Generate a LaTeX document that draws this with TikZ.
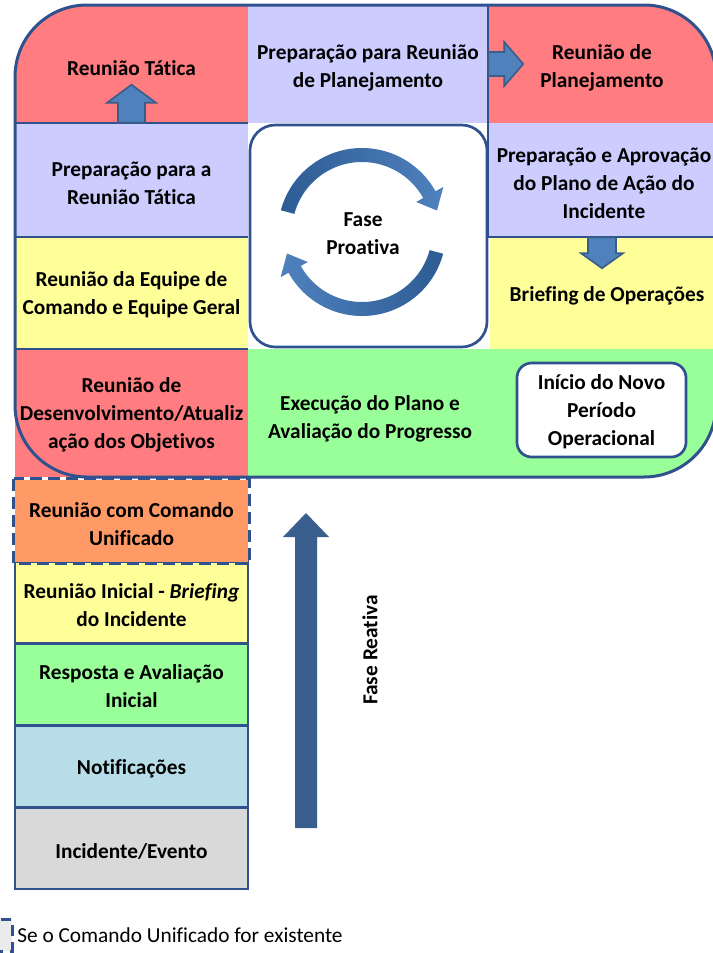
\documentclass[tikz,border=0pt]{standalone}
\usepackage{fontspec}
\setmainfont{Carlito}[Ligatures=NoCommon]
\usetikzlibrary{positioning,calc}

\definecolor{celRed}{HTML}{FF7C80}
\definecolor{celLav}{HTML}{CCCCFF}
\definecolor{celYel}{HTML}{FFFF99}
\definecolor{celGrn}{HTML}{99FF99}
\definecolor{celOra}{HTML}{FF9966}
\definecolor{celCya}{HTML}{B7DEE8}
\definecolor{celGry}{HTML}{D9D9D9}
\definecolor{lineBlue}{HTML}{2F528F}
\definecolor{arrFill}{HTML}{4F81BD}
\definecolor{arrEdge}{HTML}{385D8A}
\definecolor{arcDark}{HTML}{2E5C94}
\definecolor{bigArr}{HTML}{3A5F8E}

\tikzset{
  lbl/.style={font=\bfseries\fontsize{16}{21}\selectfont, align=center, inner sep=0pt},
  cell/.style={lbl, minimum width=174.75pt},
  stackbox/.style={cell, draw=lineBlue, line width=2pt, minimum height=61.5pt},
  gridline/.style={lineBlue, line width=1.5pt},
  blkarrow/.style={fill=arrFill, draw=arrEdge, line width=1.2pt, line join=miter},
  roundbox/.style={draw=lineBlue, line width=2pt, fill=white}
}

\begin{document}
\begin{tikzpicture}[x=0.75pt, y=-0.75pt]
\useasboundingbox (0,0) rectangle (713,953);

% upper cycle, cut by the rounded outline
\begin{scope}
  \clip[rounded corners=54pt] (15,5) rectangle (716,477);
  \node[cell, fill=celRed, minimum height=88.5pt] (tatica) at (131.5,64) {};
  \node[cell, fill=celLav, minimum width=180pt, minimum height=88.5pt] (prepPlan) at (368,64) {};
  \node[cell, fill=celRed, minimum width=171pt, minimum height=88.5pt] (planej) at (602,64) {};
  \node[cell, fill=celLav, minimum height=85.5pt] (prepT) at (131.5,180) {};
  \node[cell, fill=celLav, minimum width=171pt, minimum height=85.5pt] (aprov) at (602,180) {};
  \node[cell, fill=celYel, minimum height=84pt] (equipe) at (131.5,293) {};
  \node[cell, fill=celYel, minimum width=171pt, minimum height=84pt] (briefOp) at (604,293) {};
  \node[cell, fill=celGrn, minimum width=351pt, minimum height=96pt] (execucao) at (482,413) {};
\end{scope}
\node[cell, fill=celRed, minimum height=96pt] (desenv) at (131.5,413) {};

% cell texts
\node[lbl] (tataTxt) at (131.5,68) {Reunião Tática};
\node[lbl] (prepPlanTxt) at (368,68) {Preparação para Reunião\\de Planejamento};
\node[lbl] (planejTxt) at (602,68) {Reunião de\\Planejamento};
\node[lbl] (prepTTxt) at (131.5,183) {Preparação para a\\Reunião Tática};
\node[lbl] (aprovTxt) at (604,183) {Preparação e Aprovação\\do Plano de Ação do\\Incidente};
\node[lbl] (equipeTxt) at (131.5,295) {Reunião da Equipe de\\Comando e Equipe Geral};
\node[lbl] (briefOpTxt) at (607,296) {Briefing de Operações};
\node[lbl] (desenvTxt) at (131.5,415) {Reunião de\\Desenvolvimento/Atualiz\\ação dos Objetivos};

% cell borders
\draw[gridline] (tatica.south west) -- (tatica.south east);
\draw[gridline] (prepT.south west) -- (prepT.south east);
\draw[gridline] (equipe.south west) -- (equipe.south east);
\draw[gridline] (prepPlan.north east) -- (prepPlan.south east);
\draw[gridline] (aprov.north west) -- (aprov.south west) -- (aprov.south east);
\draw[lineBlue, line width=2.25pt, rounded corners=54pt] (15,5) rectangle (716,477);

% centre
\node[roundbox, rounded corners=19pt, minimum width=177.75pt, minimum height=166.5pt] (proBox) at (368.5,236) {};
\node[lbl] (proTxt) at (363,234) {Fase\\Proativa};
\begin{scope}[shift={(362,232)}]
  \shade[left color=arcDark, right color=arrFill] (195:84) arc[start angle=195, end angle=331, radius=84]
    -- (331:93) -- (344:78) -- (331:62) -- (331:70) arc[start angle=331, end angle=195, radius=70] -- cycle;
  \shade[left color=arrFill, right color=arcDark] (15:84) arc[start angle=15, end angle=151, radius=84]
    -- (151:93) -- (164:78) -- (151:62) -- (151:70) arc[start angle=151, end angle=15, radius=70] -- cycle;
\end{scope}
\node[lbl] (execTxt) at (370,419) {Execução do Plano e\\Avaliação do Progresso};
\node[roundbox, rounded corners=11pt, minimum width=126.75pt, minimum height=70.5pt] (inicio) at (601.5,410) {};
\node[lbl] (inicioTxt) at (601.5,412) {Início do Novo\\Período\\Operacional};

% reactive phase
\node[stackbox, fill=celGry] (incid) at (131.5,848) {};
\node[lbl] (incidTxt) at (131.5,851) {Incidente/Evento};
\node[stackbox, fill=celCya] (notif) at (131.5,766.5) {};
\node[lbl] (notifTxt) at (131.5,769) {Notificações};
\node[stackbox, fill=celGrn] (resposta) at (131.5,684) {};
\node[lbl] (respostaTxt) at (131.5,686) {Resposta e Avaliação\\Inicial};
\node[stackbox, fill=celYel] (inicial) at (131.5,602.5) {};
\node[lbl] (inicialTxt) at (131.5,605) {Reunião Inicial - \textit{Briefing}\\do Incidente};
\node[stackbox, fill=celOra, draw=none, minimum height=61.5pt] (comando) at (131.5,521) {};
\draw[lineBlue, line width=2pt, dash pattern=on 9pt off 4.5pt] (comando.north west) rectangle (comando.south east);
\node[lbl] (comandoTxt) at (131.5,524) {Reunião com Comando\\Unificado};

% block arrows
\draw[blkarrow] ($(prepT.north)+(-13.5,0)$) -- ($(prepT.north)+(-13.5,-20)$) -- ($(prepT.north)+(-24.5,-20)$)
  -- ($(prepT.north)+(0,-38)$) -- ($(prepT.north)+(24.5,-20)$) -- ($(prepT.north)+(13.5,-20)$) -- ($(prepT.north)+(13.5,0)$) -- cycle;
\draw[blkarrow] ($(prepPlan.east)+(0,-12)$) -- ($(prepPlan.east)+(16,-12)$) -- ($(prepPlan.east)+(16,-22)$)
  -- ($(prepPlan.east)+(35,0)$) -- ($(prepPlan.east)+(16,22)$) -- ($(prepPlan.east)+(16,12)$) -- ($(prepPlan.east)+(0,12)$) -- cycle;
\draw[blkarrow] ($(aprov.south)+(-14,0)$) -- ($(aprov.south)+(-14,16)$) -- ($(aprov.south)+(-21,16)$)
  -- ($(aprov.south)+(0,31)$) -- ($(aprov.south)+(21,16)$) -- ($(aprov.south)+(14,16)$) -- ($(aprov.south)+(14,0)$) -- cycle;

\coordinate (reaBase) at (306,828);
\fill[bigArr] ($(reaBase)+(-11,0)$) -- ($(reaBase)+(-11,-291)$) -- ($(reaBase)+(-23,-291)$) -- ($(reaBase)+(0,-315)$)
  -- ($(reaBase)+(23,-291)$) -- ($(reaBase)+(11,-291)$) -- ($(reaBase)+(11,0)$) -- cycle;
\node[lbl, rotate=90] (reaTxt) at (370,650) {Fase Reativa};

% legend
\draw[lineBlue, fill=black!8, line width=2.25pt, dash pattern=on 8pt off 5pt] (-10,919) rectangle (12,951);
\node[font=\fontsize{16}{19}\selectfont, anchor=west, inner sep=0pt] (legTxt) at (17,935) {Se o Comando Unificado for existente};
\end{tikzpicture}
\end{document}
